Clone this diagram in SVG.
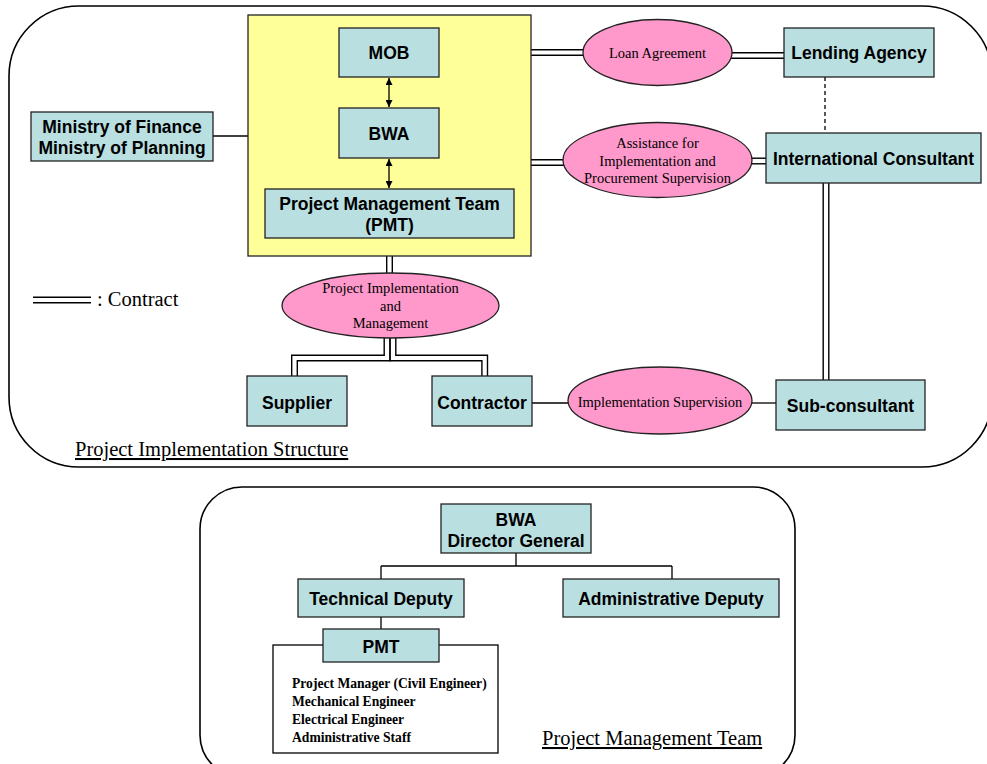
<svg xmlns="http://www.w3.org/2000/svg" xmlns:xlink="http://www.w3.org/1999/xlink" width="987" height="764" viewBox="0 0 987 764">
<defs>
<style>
.frame{fill:#fff;stroke:#000;stroke-width:1.6}
.box{fill:#B9DFE1;stroke:#222;stroke-width:1.3}
.yel{fill:#FFFF99;stroke:#222;stroke-width:1.3}
.ell{fill:#FF99CC;stroke:#222;stroke-width:1.3}
.wbox{fill:#fff;stroke:#000;stroke-width:1.3}
.bt{font-family:"Liberation Sans",Arial,sans-serif;font-weight:bold;font-size:17.5px;fill:#000;text-anchor:middle}
.et{font-family:"Liberation Serif","Times New Roman",serif;font-size:14.5px;fill:#000;text-anchor:middle}
.lt{font-family:"Liberation Serif","Times New Roman",serif;font-size:13.6px;font-weight:bold;fill:#000}
.tt{font-family:"Liberation Serif","Times New Roman",serif;font-size:20.5px;fill:#000}
.ln{fill:none;stroke:#000;stroke-width:1.3}
.dash{fill:none;stroke:#000;stroke-width:1.3;stroke-dasharray:4 3}
.dO{fill:none;stroke:#000;stroke-width:7}
.dI{fill:none;stroke:#fff;stroke-width:4.2}
</style>
<marker id="ah" viewBox="0 0 10 10" refX="10" refY="5" markerWidth="7" markerHeight="7" orient="auto-start-reverse" markerUnits="userSpaceOnUse">
<path d="M0,0 L10,5 L0,10 Z" fill="#000"/>
</marker>
<path id="c1" d="M525,52.5 H590"/>
<path id="c2" d="M725,55.5 H790"/>
<path id="c3" d="M525,162.5 H570"/>
<path id="c4" d="M745,161 H772"/>
<path id="c5" d="M826,180 V383"/>
<path id="c6" d="M389.5,250 V278"/>
<path id="c7" d="M387,334 V358 H294.5 V380"/>
<path id="c8" d="M393,334 V358 H484.7 V380"/>
<path id="leg" d="M33,300 H91"/>
</defs>

<g id="frame-structure"><rect class="frame" x="9" y="6" width="983" height="461" rx="70" ry="70"/></g>
<g id="frame-pmt"><rect class="frame" x="200" y="487" width="595" height="290" rx="42" ry="42"/></g>

<g id="connectors">
<use href="#c1" class="dO"/><use href="#c2" class="dO"/><use href="#c3" class="dO"/><use href="#c4" class="dO"/>
<use href="#c5" class="dO"/><use href="#c6" class="dO"/><use href="#c7" class="dO"/><use href="#c8" class="dO"/>
<use href="#c1" class="dI"/><use href="#c2" class="dI"/><use href="#c3" class="dI"/><use href="#c4" class="dI"/>
<use href="#c5" class="dI"/><use href="#c6" class="dI"/><use href="#c7" class="dI"/><use href="#c8" class="dI"/>
<line class="ln" x1="213" y1="136" x2="248" y2="136"/>
<line class="dash" x1="825" y1="77" x2="825" y2="133"/>
<line class="ln" x1="532" y1="403" x2="568" y2="403"/>
<line class="ln" x1="752" y1="403" x2="776" y2="403"/>
<path class="ln" d="M516,553 V566 M381,566 H672 M381,566 V579 M672,566 V579 M381,617 V629"/>
</g>

<g id="pmt-group"><rect class="yel" x="248" y="15" width="283" height="241"/></g>

<g id="arrows">
<line class="ln" x1="389" y1="78" x2="389" y2="107" marker-start="url(#ah)" marker-end="url(#ah)"/>
<line class="ln" x1="389" y1="159" x2="389" y2="188" marker-start="url(#ah)" marker-end="url(#ah)"/>
</g>

<g id="mob"><rect class="box" x="339" y="28" width="100" height="49"/><text class="bt" x="389" y="58.5">MOB</text></g>
<g id="bwa"><rect class="box" x="339" y="108" width="100" height="50"/><text class="bt" x="389" y="140">BWA</text></g>
<g id="pmt"><rect class="box" x="265" y="189" width="249" height="49"/><text class="bt" x="389.5" y="210">Project Management Team</text><text class="bt" x="389.5" y="231">(PMT)</text></g>
<g id="ministry"><rect class="box" x="31" y="112" width="182" height="49"/><text class="bt" x="122" y="133">Ministry of Finance</text><text class="bt" x="122" y="154">Ministry of Planning</text></g>
<g id="loan"><ellipse class="ell" cx="657.5" cy="52.5" rx="74.5" ry="33"/><text class="et" x="657.5" y="57.5">Loan Agreement</text></g>
<g id="lending"><rect class="box" x="784" y="28" width="150" height="49"/><text class="bt" x="859" y="58.5">Lending Agency</text></g>
<g id="assist"><ellipse class="ell" cx="657.5" cy="160" rx="94.5" ry="37.5"/><text class="et" x="657.5" y="148">Assistance for</text><text class="et" x="657.5" y="166">Implementation and</text><text class="et" x="657.5" y="183">Procurement Supervision</text></g>
<g id="intl"><rect class="box" x="766" y="133" width="215" height="50"/><text class="bt" x="873.5" y="165">International Consultant</text></g>
<g id="pim"><ellipse class="ell" cx="390.5" cy="305.5" rx="108.5" ry="32.5"/><text class="et" x="390.5" y="293">Project Implementation</text><text class="et" x="390.5" y="310.5">and</text><text class="et" x="390.5" y="328">Management</text></g>
<g id="supplier"><rect class="box" x="247" y="376" width="100" height="50"/><text class="bt" x="297" y="409">Supplier</text></g>
<g id="contractor"><rect class="box" x="432" y="376" width="100" height="50"/><text class="bt" x="482" y="409">Contractor</text></g>
<g id="implsup"><ellipse class="ell" cx="660" cy="400.5" rx="92" ry="33.5"/><text class="et" x="660" y="407">Implementation Supervision</text></g>
<g id="subcons"><rect class="box" x="776" y="380" width="149" height="50"/><text class="bt" x="850.5" y="412">Sub-consultant</text></g>

<g id="legend"><use href="#leg" class="dO"/><use href="#leg" class="dI"/><text class="tt" x="97" y="306">: Contract</text></g>
<g id="title1"><text class="tt" x="75" y="456" text-decoration="underline">Project Implementation Structure</text></g>

<g id="dg"><rect class="box" x="441" y="504" width="150" height="49"/><text class="bt" x="516" y="526">BWA</text><text class="bt" x="516" y="547">Director General</text></g>
<g id="tech"><rect class="box" x="298" y="579" width="166" height="38"/><text class="bt" x="381" y="604.5">Technical Deputy</text></g>
<g id="admin"><rect class="box" x="563" y="579" width="216" height="38"/><text class="bt" x="671" y="604.5">Administrative Deputy</text></g>
<g id="pmt-list"><rect class="wbox" x="273" y="645" width="225" height="108"/>
<text class="lt" x="292" y="688">Project Manager (Civil Engineer)</text>
<text class="lt" x="292" y="706">Mechanical Engineer</text>
<text class="lt" x="292" y="724">Electrical Engineer</text>
<text class="lt" x="292" y="742">Administrative Staff</text></g>
<g id="pmt2"><rect class="box" x="323" y="629" width="116" height="33"/><text class="bt" x="381" y="652.8">PMT</text></g>
<g id="title2"><text class="tt" x="542" y="745" text-decoration="underline">Project Management Team</text></g>
</svg>
